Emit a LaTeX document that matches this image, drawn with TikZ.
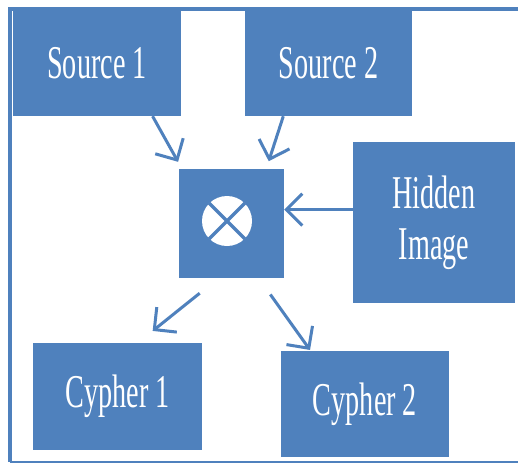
\documentclass[tikz,border=0pt]{standalone}
\usepackage{fontspec}
\setmainfont{Liberation Serif}
\newfontfamily\labelfont[FakeStretch=0.6]{Liberation Serif}
\usetikzlibrary{arrows.meta,calc,positioning}
\definecolor{boxblue}{HTML}{4F81BD}

\begin{document}
\begin{tikzpicture}[x=1pt,y=-1pt,
  blk/.style={fill=boxblue,text=white,inner sep=0pt,align=center,
    font=\labelfont\fontsize{47}{51}\selectfont},
  arr/.style={boxblue,line width=3pt,-{Straight Barb[length=16pt,width=32pt]}}]
  \useasboundingbox (0,0) rectangle (518,464);
  \fill[white] (0,0) rectangle (518,464);
  \draw[boxblue,line width=4pt] (518,9) -- (10,9) -- (10,462);
  \draw[boxblue,line width=2pt] (10,462) -- (518,462);
  \node[blk,minimum width=168pt,minimum height=105pt] (src1) at (97,63.5) {Source 1};
  \node[blk,minimum width=167pt,minimum height=105pt] (src2) at (328.5,63.5) {Source 2};
  \node[blk,minimum width=105pt,minimum height=109pt] (mix) at (231.5,223.5) {};
  \node[blk,minimum width=162pt,minimum height=161pt] (hidden) at (434,222.5) {Hidden\\Image};
  \node[blk,minimum width=169pt,minimum height=107pt] (cy1) at (117.5,396.5) {Cypher 1};
  \node[blk,minimum width=168pt,minimum height=106pt] (cy2) at (365,404) {Cypher 2};
  \node[circle,fill=white,minimum size=50pt,inner sep=0pt] (xor) at (227,221) {};
  \draw[boxblue,line width=3.5pt] (xor.north west) -- (xor.south east)
    (xor.north east) -- (xor.south west);
  \draw[arr,shorten >=8pt] ($(src1.south west)!.83!(src1.south east)$)
    -- ($(mix.north west)!.03!(mix.north east)$);
  \draw[arr,shorten >=8pt] ($(src2.south west)!.23!(src2.south east)$)
    -- ($(mix.north west)!.83!(mix.north east)$);
  \coordinate (hin) at ($(hidden.north west)!.42!(hidden.south west)$);
  \draw[arr] (hin) -- (hin -| mix.east);
  \draw[arr,shorten <=24pt,shorten >=19pt] ($(mix.south west)!.376!(mix.south east)$)
    -- ($(cy1.north west)!.62!(cy1.north east)$);
  \draw[arr,shorten <=20pt,shorten >=1pt] ($(mix.south west)!.758!(mix.south east)$)
    -- ($(cy2.north west)!.177!(cy2.north east)$);
\end{tikzpicture}
\end{document}
